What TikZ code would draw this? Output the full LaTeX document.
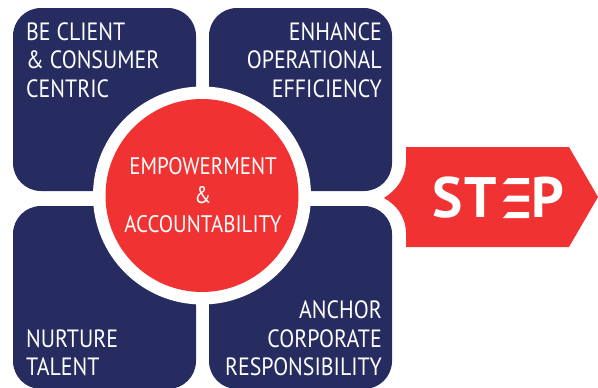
\documentclass[tikz,border=0pt]{standalone}
\usepackage{fontspec}
\setmainfont[FakeStretch=0.875]{PT Sans}
\newfontfamily\stepfont[LetterSpace=4]{PT Sans}
\usetikzlibrary{calc}
\definecolor{panelblue}{HTML}{262C60}
\definecolor{tagred}{HTML}{F13232}
\tikzset{
	panel/.style={fill=panelblue, rounded corners=28pt, minimum size=183pt, inner sep=0pt},
	panellabel/.style={text=white, font=\fontsize{25}{28.5}\selectfont, inner sep=0pt},
	hublabel/.style={text=white, font=\fontsize{23.9}{29}\selectfont, align=center, inner sep=0pt}
}
\begin{document}
\begin{tikzpicture}[x=1pt, y=-1pt]
	\useasboundingbox (0, 0) rectangle (598, 388);
	\node[panel] (client) at (104.5, 99.5) {};
	\node[panel] (efficiency) at (300.5, 99.5) {};
	\node[panel] (talent) at (104.5, 297.5) {};
	\node[panel] (anchor) at (300.5, 297.5) {};
	\node[circle, fill=white, minimum size=218pt, inner sep=0pt] (hubring) at (202, 195.5) {};
	\node[circle, fill=tagred, minimum size=193pt, inner sep=0pt] (hub) at (202, 195.5) {};
	\filldraw[fill=tagred, draw=none] (406, 147) -- (569, 147) -- (598, 197) -- (569, 247) -- (406, 247) -- (406, 232)
		.. controls (405, 215) and (396, 205) .. (384, 198)
		.. controls (396, 190) and (405, 180) .. (406, 162) -- cycle;
	\node[panellabel, align=left, anchor=north west] (clienttext) at (26, 22) {BE CLIENT\\\& CONSUMER\\CENTRIC};
	\node[panellabel, align=right, anchor=north east] (efficiencytext) at (382, 22) {ENHANCE\\OPERATIONAL\\EFFICIENCY};
	\node[panellabel, align=left, anchor=south west] (talenttext) at (26, 376) {NURTURE\\TALENT};
	\node[panellabel, align=right, anchor=south east] (anchortext) at (382, 376) {ANCHOR\\CORPORATE\\RESPONSIBILITY};
	\node[hublabel] (hubtext) at (203, 195) {EMPOWERMENT\\\&\\ACCOUNTABILITY};
	\node[text=white, font=\fontsize{57}{57}\stepfont\bfseries, inner sep=0pt] (steptext) at (498, 198) {STEP};
	% slanted bars of the E
	\fill[tagred] (501, 175) rectangle (533, 221);
	\foreach \y in {178, 195.5, 212}
		\fill[white] (508, \y) -- (529, \y) -- (529, \y+6) -- (503, \y+6) -- cycle;
\end{tikzpicture}
\end{document}
